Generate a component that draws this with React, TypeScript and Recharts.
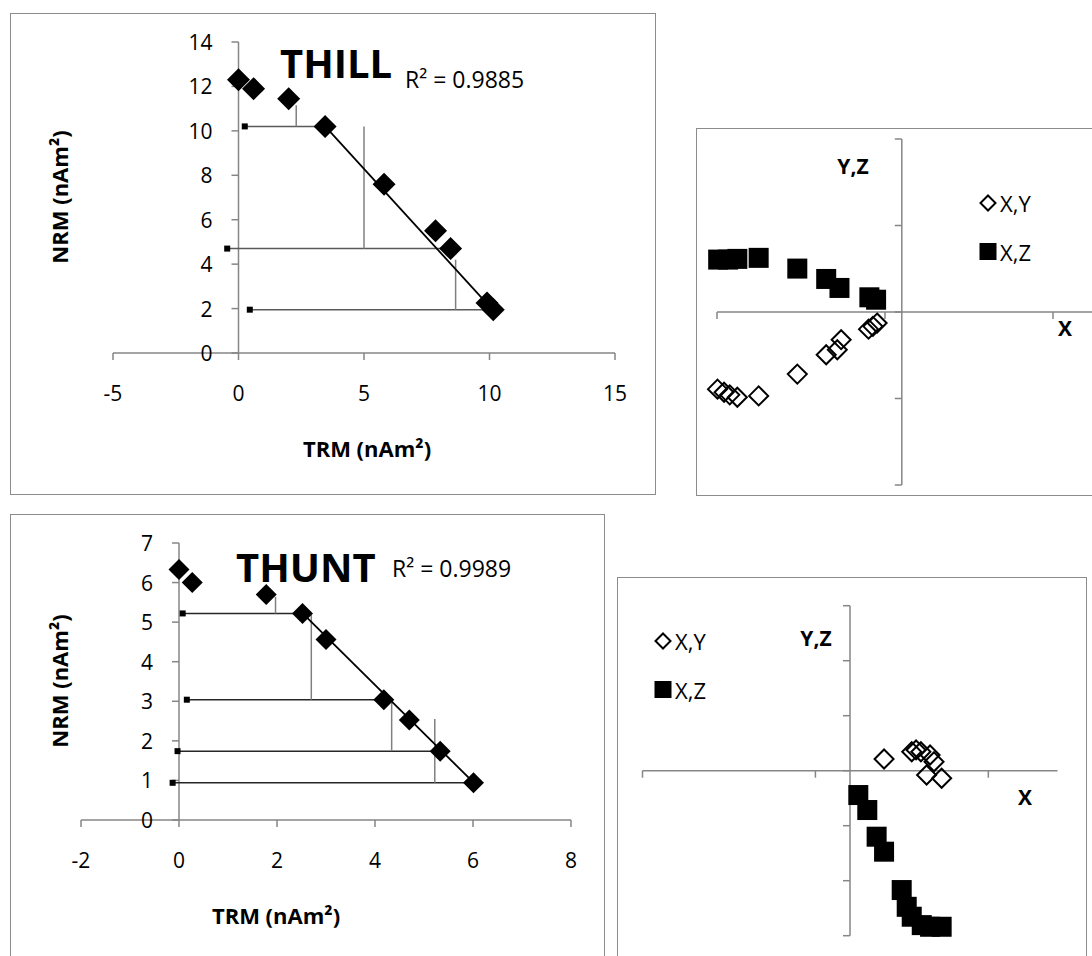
import React from "react";
import {
  ScatterChart,
  Scatter,
  XAxis,
  YAxis,
  ReferenceLine,
  ReferenceDot
} from "recharts";

const FONT = "'Open Sans', Lato, sans-serif";
const AXIS = "#868686";
const BORDER = "#8c8c8c";

// ---- THILL Arai plot (TRM vs NRM, nAm²)
const thillTrm = [0, 0.6, 2.0, 3.45, 5.8, 7.85, 8.45, 9.9, 10.15];
const thillNrm = [12.3, 11.9, 11.45, 10.2, 7.6, 5.5, 4.7, 2.25, 1.95];
const thillCheckTrm = [0.25, -0.45, 0.45];
const thillCheckNrm = [10.2, 4.7, 1.95];
const thillCheckEnd = [3.45, 8.45, 9.9];
const thillTailTrm = [2.3, 5.0, 8.65];
const thillTailLow = [10.2, 4.7, 1.95];
const thillTailHigh = [11.15, 10.2, 4.2];
const thillFitTrm = [3.5, 10.2];
const thillFitNrm = [10.15, 1.85];
const thillXTicks = [-5, 0, 5, 10, 15];
const thillYTicks = [0, 2, 4, 6, 8, 10, 12, 14];

// ---- THUNT Arai plot
const thuntTrm = [0, 0.27, 1.78, 2.52, 3.0, 4.18, 4.7, 5.33, 6.01];
const thuntNrm = [6.33, 6.0, 5.7, 5.22, 4.56, 3.04, 2.53, 1.74, 0.94];
const thuntCheckTrm = [0.075, 0.16, -0.03, -0.13];
const thuntCheckNrm = [5.22, 3.04, 1.74, 0.94];
const thuntCheckEnd = [2.52, 4.18, 5.33, 6.01];
const thuntTailTrm = [1.97, 2.7, 4.34, 5.22];
const thuntTailLow = [5.22, 3.04, 1.74, 0.94];
const thuntTailHigh = [5.64, 5.19, 2.96, 2.55];
const thuntFitTrm = [2.54, 6.05];
const thuntFitNrm = [5.2, 0.9];
const thuntXTicks = [-2, 0, 2, 4, 6, 8];
const thuntYTicks = [0, 1, 2, 3, 4, 5, 6, 7];

// ---- THILL orthogonal projection
const thillXyX = [-1.097, -1.058, -1.024, -0.979, -0.852, -0.622, -0.45, -0.384, -0.361, -0.198, -0.172, -0.147];
const thillXyY = [-0.446, -0.464, -0.479, -0.493, -0.485, -0.359, -0.247, -0.218, -0.16, -0.099, -0.083, -0.064];
const thillXzX = [-1.093, -1.034, -0.979, -0.852, -0.622, -0.45, -0.371, -0.193, -0.153];
const thillXzZ = [0.303, 0.303, 0.307, 0.313, 0.251, 0.191, 0.139, 0.085, 0.071];
const thillZijXTicks = [-1.1, -0.1, 0.9];
const thillZijYTicks = [-1, -0.5, 0, 0.5, 1];

// ---- THUNT orthogonal projection
const thuntXyX = [0.197, 0.357, 0.382, 0.41, 0.463, 0.486, 0.443, 0.53];
const thuntXyY = [0.085, 0.138, 0.151, 0.138, 0.114, 0.065, -0.031, -0.055];
const thuntXzX = [0.048, 0.1, 0.154, 0.197, 0.299, 0.328, 0.357, 0.415, 0.463, 0.53];
const thuntXzZ = [-0.177, -0.286, -0.48, -0.589, -0.868, -0.99, -1.062, -1.123, -1.135, -1.135];
const thuntZijXTicks = [-1.2, -0.2, 0.8];
const thuntZijYTicks = [-1.2, -0.8, -0.4, 0, 0.4, 0.8, 1.2];

const XY_NAME = "X,Y";
const XZ_NAME = "X,Z";

type Pt = { x: number; y: number };
type Box = { left: number; top: number; width: number; height: number };
type Margin = { top: number; right: number; bottom: number; left: number };

const zip = (xs: number[], ys: number[]): Pt[] => xs.map((x, i) => ({ x, y: ys[i] }));

const diamondPath = (cx: number, cy: number, s: number) => {
  const h = s / 2;
  return `M${cx},${cy - h}L${cx + h},${cy}L${cx},${cy + h}L${cx - h},${cy}Z`;
};

const diamond = (size: number, fill: string, stroke: string, sw: number) => (props: any) => (
  <path d={diamondPath(props.cx, props.cy, size)} fill={fill} stroke={stroke} strokeWidth={sw} />
);

const square = (size: number) => (props: any) => (
  <rect x={props.cx - size / 2} y={props.cy - size / 2} width={size} height={size} fill="#000" />
);

function Panel({ box, children }: { box: Box; children: React.ReactNode }) {
  return (
    <div style={{ position: "absolute", left: box.left, top: box.top, width: box.width, height: box.height }}>
      {children}
      <div
        style={{
          position: "absolute",
          inset: 0,
          border: `1.5px solid ${BORDER}`,
          pointerEvents: "none"
        }}
      />
    </div>
  );
}

function AraiChart(p: {
  box: Box;
  margin: Margin;
  xDomain: [number, number];
  yDomain: [number, number];
  xTicks: number[];
  yTicks: number[];
  steps: Pt[];
  checks: Pt[];
  checkEnd: number[];
  tailTrm: number[];
  tailLow: number[];
  tailHigh: number[];
  fit: Pt[];
  barColor: string;
  diamondSize: number;
}) {
  return (
    <ScatterChart width={p.box.width} height={p.box.height} margin={p.margin}>
      <XAxis
        type="number"
        dataKey="x"
        domain={p.xDomain}
        ticks={p.xTicks}
        interval={0}
        height={40}
        tickSize={7}
        tickMargin={26}
        axisLine={{ stroke: AXIS, strokeWidth: 1.5 }}
        tickLine={{ stroke: AXIS, strokeWidth: 1.5 }}
        tick={{ fill: "#000", fontSize: 21, fontFamily: FONT }}
      />
      <YAxis type="number" dataKey="y" domain={p.yDomain} hide />
      <ReferenceLine x={0} stroke={AXIS} strokeWidth={1.5} />
      {p.yTicks.map((t) => (
        <ReferenceDot
          key={`yt${t}`}
          x={0}
          y={t}
          shape={(d: any) => (
            <g>
              <line x1={d.cx - 7} y1={d.cy} x2={d.cx} y2={d.cy} stroke={AXIS} strokeWidth={1.5} />
              <text
                x={d.cx - 26}
                y={d.cy}
                textAnchor="end"
                dominantBaseline="central"
                fontSize={21}
                fontFamily={FONT}
                fill="#000"
              >
                {t}
              </text>
            </g>
          )}
        />
      ))}
      {p.checks.map((c, i) => (
        <ReferenceLine
          key={`h${i}`}
          segment={[c, { x: p.checkEnd[i], y: c.y }]}
          stroke={p.barColor}
          strokeWidth={1.5}
        />
      ))}
      {p.tailTrm.map((x, i) => (
        <ReferenceLine
          key={`v${i}`}
          segment={[{ x, y: p.tailLow[i] }, { x, y: p.tailHigh[i] }]}
          stroke="#808080"
          strokeWidth={1.5}
        />
      ))}
      <ReferenceLine segment={p.fit} stroke="#000" strokeWidth={1.8} />
      <Scatter data={p.checks} shape={square(6)} isAnimationActive={false} />
      <Scatter
        data={p.steps}
        shape={diamond(p.diamondSize, "#000", "#000", 0)}
        isAnimationActive={false}
      />
    </ScatterChart>
  );
}

function ZijChart(p: {
  box: Box;
  margin: Margin;
  xDomain: [number, number];
  yDomain: [number, number];
  xTicks: number[];
  yTicks: number[];
  xy: Pt[];
  xz: Pt[];
}) {
  return (
    <ScatterChart width={p.box.width} height={p.box.height} margin={p.margin}>
      <XAxis type="number" dataKey="x" domain={p.xDomain} hide />
      <YAxis type="number" dataKey="y" domain={p.yDomain} hide />
      <ReferenceLine y={0} stroke={AXIS} strokeWidth={1.5} />
      <ReferenceLine x={0} stroke={AXIS} strokeWidth={1.5} />
      {p.xTicks.map((t) => (
        <ReferenceDot
          key={`xt${t}`}
          x={t}
          y={0}
          shape={(d: any) => (
            <line x1={d.cx} y1={d.cy} x2={d.cx} y2={d.cy + 7} stroke={AXIS} strokeWidth={1.5} />
          )}
        />
      ))}
      {p.yTicks.map((t) => (
        <ReferenceDot
          key={`yt${t}`}
          x={0}
          y={t}
          shape={(d: any) => (
            <line x1={d.cx - 7} y1={d.cy} x2={d.cx} y2={d.cy} stroke={AXIS} strokeWidth={1.5} />
          )}
        />
      ))}
      <Scatter name={XZ_NAME} data={p.xz} shape={square(20)} isAnimationActive={false} />
      <Scatter
        name={XY_NAME}
        data={p.xy}
        shape={diamond(19, "none", "#000", 2)}
        isAnimationActive={false}
      />
    </ScatterChart>
  );
}

const P1: Box = { left: 10, top: 13, width: 646, height: 482 };
const P2: Box = { left: 696, top: 128, width: 414, height: 368 };
const P3: Box = { left: 10, top: 514, width: 595, height: 452 };
const P4: Box = { left: 617, top: 577, width: 470, height: 400 };

function Legend({ x, y }: { x: number; y: number }) {
  return (
    <g fontFamily={FONT} fontSize={22} fill="#000">
      <path d={diamondPath(x, y, 15)} fill="none" stroke="#000" strokeWidth={2} />
      <text x={x + 12} y={y} dominantBaseline="central">{XY_NAME}</text>
      <rect x={x - 8.5} y={y + 40} width={17} height={17} fill="#000" />
      <text x={x + 12} y={y + 49} dominantBaseline="central">{XZ_NAME}</text>
    </g>
  );
}

export default function App() {
  return (
    <div
      style={{
        position: "absolute",
        left: 0,
        top: 0,
        width: 1092,
        height: 956,
        overflow: "hidden",
        background: "#fff",
        fontFamily: FONT
      }}
    >
      <Panel box={P1}>
        <AraiChart
          box={P1}
          margin={{ top: 29, right: 41, bottom: 102, left: 103 }}
          xDomain={[-5, 15]}
          yDomain={[0, 14]}
          xTicks={thillXTicks}
          yTicks={thillYTicks}
          steps={zip(thillTrm, thillNrm)}
          checks={zip(thillCheckTrm, thillCheckNrm)}
          checkEnd={thillCheckEnd}
          tailTrm={thillTailTrm}
          tailLow={thillTailLow}
          tailHigh={thillTailHigh}
          fit={zip(thillFitTrm, thillFitNrm)}
          barColor="#5a5a5a"
          diamondSize={23}
        />
      </Panel>
      <Panel box={P2}>
        <ZijChart
          box={P2}
          margin={{ top: 11, right: 15, bottom: 11, left: 21 }}
          xDomain={[-1.1, 1.15]}
          yDomain={[-1, 1]}
          xTicks={thillZijXTicks}
          yTicks={thillZijYTicks}
          xy={zip(thillXyX, thillXyY)}
          xz={zip(thillXzX, thillXzZ)}
        />
      </Panel>
      <Panel box={P3}>
        <AraiChart
          box={P3}
          margin={{ top: 29, right: 34, bottom: 106, left: 71 }}
          xDomain={[-2, 8]}
          yDomain={[0, 7]}
          xTicks={thuntXTicks}
          yTicks={thuntYTicks}
          steps={zip(thuntTrm, thuntNrm)}
          checks={zip(thuntCheckTrm, thuntCheckNrm)}
          checkEnd={thuntCheckEnd}
          tailTrm={thuntTailTrm}
          tailLow={thuntTailLow}
          tailHigh={thuntTailHigh}
          fit={zip(thuntFitTrm, thuntFitNrm)}
          barColor="#262626"
          diamondSize={21}
        />
      </Panel>
      <Panel box={P4}>
        <ZijChart
          box={P4}
          margin={{ top: 28.7, right: 29.5, bottom: 41.3, left: 25.5 }}
          xDomain={[-1.2, 1.2]}
          yDomain={[-1.2, 1.2]}
          xTicks={thuntZijXTicks}
          yTicks={thuntZijYTicks}
          xy={zip(thuntXyX, thuntXyY)}
          xz={zip(thuntXzX, thuntXzZ)}
        />
      </Panel>

      <svg
        width={1092}
        height={956}
        style={{ position: "absolute", left: 0, top: 0, pointerEvents: "none" }}
      >
        <g fontFamily={FONT} fill="#000">
          {/* Arai plot titles */}
          <text x={280} y={78} fontSize={40} fontWeight="bold">THILL</text>
          <text x={405} y={88} fontSize={23}>R² = 0.9885</text>
          <text x={236} y={582} fontSize={40} fontWeight="bold">THUNT</text>
          <text x={392} y={577} fontSize={23}>R² = 0.9989</text>

          {/* axis titles */}
          <text
            transform="translate(59 197) rotate(-90)"
            textAnchor="middle"
            dominantBaseline="central"
            fontSize={22}
            fontWeight="bold"
          >
            NRM (nAm²)
          </text>
          <text x={367} y={448} textAnchor="middle" dominantBaseline="central" fontSize={22} fontWeight="bold">
            TRM (nAm²)
          </text>
          <text
            transform="translate(59 681) rotate(-90)"
            textAnchor="middle"
            dominantBaseline="central"
            fontSize={22}
            fontWeight="bold"
          >
            NRM (nAm²)
          </text>
          <text x={276} y={915} textAnchor="middle" dominantBaseline="central" fontSize={22} fontWeight="bold">
            TRM (nAm²)
          </text>

          {/* projection axis names */}
          <text x={853} y={166} textAnchor="middle" dominantBaseline="central" fontSize={21} fontWeight="bold">Y,Z</text>
          <text x={1065} y={328} textAnchor="middle" dominantBaseline="central" fontSize={21} fontWeight="bold">X</text>
          <text x={816} y={638} textAnchor="middle" dominantBaseline="central" fontSize={21} fontWeight="bold">Y,Z</text>
          <text x={1025} y={797} textAnchor="middle" dominantBaseline="central" fontSize={21} fontWeight="bold">X</text>
        </g>
        <Legend x={988} y={203} />
        <Legend x={663} y={641} />
      </svg>
    </div>
  );
}
